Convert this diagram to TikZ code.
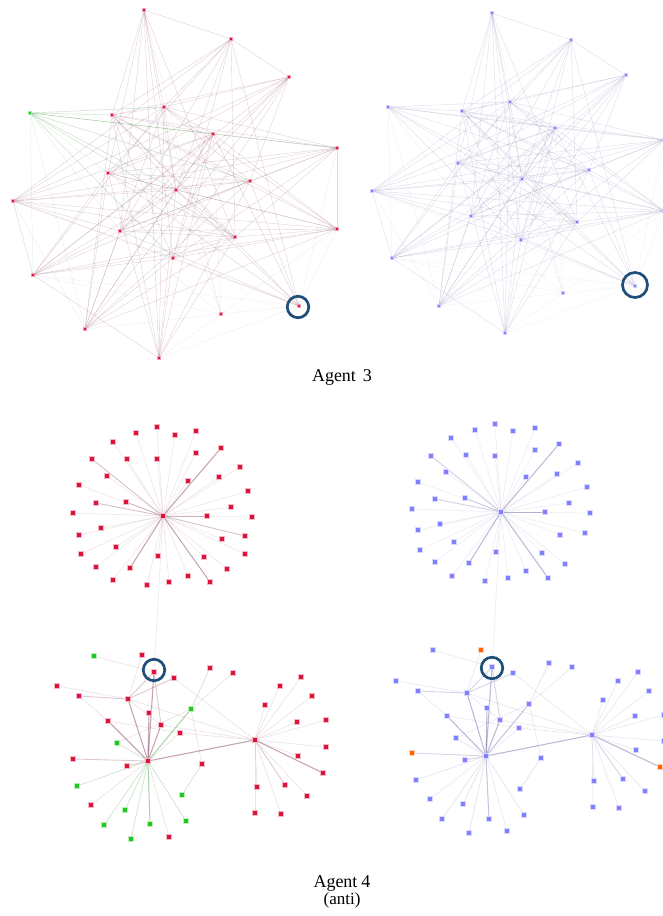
\documentclass[tikz,border=0pt]{standalone}
\usepackage{fontspec}
\setmainfont{Liberation Serif}
\usetikzlibrary{backgrounds}
\definecolor{crim}{RGB}{220,20,60}
\definecolor{grn}{RGB}{30,200,30}
\definecolor{blu}{RGB}{128,128,255}
\definecolor{org}{RGB}{255,100,0}
\definecolor{ringc}{RGB}{31,78,121}
\definecolor{mauve}{RGB}{130,60,90}
\definecolor{lav}{RGB}{105,98,160}
\definecolor{gedge}{RGB}{60,150,60}

\newcommand\mytopedges[1]{%
 \foreach \ea/\eb in {A/B,A/D,A/E,A/I,A/K,A/M,A/P,A/N,A/U,
   B/C,B/D,B/E,B/I,B/L,B/K,B/M,B/P,B/N,B/R,
   C/E,C/D,C/L,C/I,C/K,C/M,C/Q,C/T,C/P,C/J,
   D/E,D/F,D/H,D/J,D/K,D/O,D/N,D/R,D/U,D/T,D/P,
   E/F,E/H,E/J,E/K,E/Q,E/L,E/T,E/U,E/O,
   F/H,F/L,F/I,F/Q,F/T,F/U,F/K,F/O,F/P,F/R,F/M,
   H/I,H/K,H/L,H/J,H/M,H/N,H/O,H/P,
   I/J,I/K,I/O,I/T,I/U,I/Q,I/R,I/N,
   J/L,J/Q,J/T,J/U,J/K,J/M,J/O,J/R,
   K/L,K/O,K/Q,K/T,K/U,K/N,K/R,K/M,
   L/O,L/M,L/N,L/P,L/Q,
   M/N,M/O,M/T,M/Q,M/R,
   N/O,N/Q,N/T,N/U,N/P,
   O/P,O/Q,O/T,P/Q,P/T,P/U,P/R,Q/U}{\draw[eN] (#1\ea) -- (#1\eb);}
 \foreach \ea/\eb in {A/S,E/S,L/R,L/T,O/S,O/R,Q/S,Q/R,R/S,R/U,S/T,S/U,S/K,S/F,S/M,H/R}{\draw[eF] (#1\ea) -- (#1\eb);}
 \foreach \eb in {D,E,F,H,J,K,P,N}{\draw[eG] (#1G) -- (#1\eb);}
 \foreach \eb in {M,I,Q,T}{\draw[eGf] (#1G) -- (#1\eb);}
}

\newcommand\mybottomedges[1]{%
 \foreach \ea/\eb in {H1/H2,H1/C,H1/n7,H1/n8,H1/n10,H1/n9,H2/r9}{\draw[eD] (#1\ea) -- (#1\eb);}
 \foreach \ea/\eb in {n7/n6,n7/C,n7/n2,H2/r11,C/n10,H1/n12,H1/n13}{\draw[eM] (#1\ea) -- (#1\eb);}
 \foreach \ea/\eb in {g2/n3,H1/g3,H1/g4,H1/g6,H1/g7,H1/g9,H1/g10,g5/n14}{\draw[eG] (#1\ea) -- (#1\eb);}
 \foreach \ea/\eb in {H1/g2,H1/g8}{\draw[eGd] (#1\ea) -- (#1\eb);}
 \foreach \ea/\eb in {H1/n11,H1/n15,H1/n16,n5/n7,n6/n9,n1/n7,n2/H2,n7/H2,n9/n11,n10/H2,n11/H2,g2/n4,g3/g2,n14/g2,n7/n10,g1/C}{\draw[eN] (#1\ea) -- (#1\eb);}
 \foreach \i in {1,...,8,10,12,13,14}{\draw[eN] (#1H2) -- (#1r\i);}
}

\begin{document}
\begin{tikzpicture}[x=1pt,y=-1pt,
  tR/.style={rectangle,inner sep=0pt,minimum size=3pt,fill=crim,draw=crim!40,line width=0.6pt},
  tB/.style={rectangle,inner sep=0pt,minimum size=3pt,fill=blu,draw=blu!40,line width=0.6pt},
  tGr/.style={rectangle,inner sep=0pt,minimum size=3pt,fill=grn,draw=grn!40,line width=0.6pt},
  sqR/.style={rectangle,inner sep=0pt,minimum size=4.3pt,fill=crim,draw=crim!30,line width=1pt},
  sqB/.style={rectangle,inner sep=0pt,minimum size=4.3pt,fill=blu,draw=blu!30,line width=1pt},
  sqG/.style={rectangle,inner sep=0pt,minimum size=4.3pt,fill=grn,draw=grn!30,line width=1pt},
  sqO/.style={rectangle,inner sep=0pt,minimum size=4.3pt,fill=org,draw=org!30,line width=1pt},
  ring/.style={circle,draw=ringc,line width=2.7pt,inner sep=0pt},
  lbl/.style={font=\fontsize{18}{20}\selectfont,anchor=base,inner sep=0pt}]
\useasboundingbox (0,0) rectangle (663,916);

% ---------- top graphs ----------
\foreach \n/\x/\y in {A/144/10,B/231/39,C/289/77,D/112/115,E/164/107,F/213/134,H/337/148,I/108/173,J/250/181,K/176/190,L/13/201,M/120/231,N/235/237,O/337/229,P/173/258,Q/33/275,R/299/306,S/221/314,T/85/329,U/159/358}
  {\node[tR] (L\n) at (\x,\y) {};}
\node[tGr] (LG) at (30,113) {};
\foreach \n/\x/\y in {A/492/13,B/571/40,C/626/75,G/388/107,D/462/111,E/510/102,F/555/128,H/664/140,I/458/163,J/589/170,K/522/179,L/372/191,M/471/216,N/577/222,O/664/211,P/521/240,Q/392/258,R/635/286,S/563/293,T/439/306,U/505/333}
  {\node[tB] (R\n) at (\x,\y) {};}

% ---------- stars ----------
\node[sqR] (sLc) at (163,516) {};
\foreach \x/\y [count=\i] in {157/427,136/433,175/435,196/431,113/442,221/448,92/459,127/459,157/459,196/453,240/467,107/476,219/477,188/481,79/485,248/491,96/503,126/502,231/507,73/513,207/516,252/517,101/528,79/535,245/536,222/539,81/554,116/547,245/554,158/556,204/557,96/567,130/568,227/569,188/576,113/580,169/582,210/582,147/585}
  {\node[sqR] (sL\i) at (\x,\y) {};}
\node[sqB] (sRc) at (501,512) {};
\foreach \x/\y [count=\i] in {495/424,475/430,513/431,535/428,451/438,559/444,431/456,466/455,495/456,535/450,578/463,446/472,557/474,526/477,418/482,569/503,435/499,465/498,412/509,545/512,440/524,418/530,560/535,454/542,420/550,542/553,565/564,496/552,435/562,469/563,452/576,526/571,485/581,508/578,548/578,587/487,590/513,585/533}
  {\node[sqB] (sR\i) at (\x,\y) {};}

% ---------- bottom graphs ----------
\foreach \n/\x/\y in {H1/148/761,H2/255/740,C/154/672,n1/142/655,n2/174/678,n3/210/668,n4/233/673,n5/57/686,n6/79/696,n7/128/699,n8/149/713,n9/108/721,n10/161/725,n11/180/733,n12/73/759,n13/127/766,n14/202/764,n15/91/805,n16/169/837,r1/280/686,r2/301/677,r3/265/705,r4/312/696,r5/297/722,r6/326/720,r7/326/747,r8/298/756,r9/323/773,r10/257/787,r11/285/785,r12/307/796,r13/255/813,r14/281/814}
  {\node[sqR] (bL\n) at (\x,\y) {};}
\foreach \n/\x/\y in {g1/94/656,g2/191/709,g3/117/743,g4/77/786,g5/182/795,g6/125/810,g7/104/825,g8/150/824,g9/186/821,g10/131/839}
  {\node[sqG] (bL\n) at (\x,\y) {};}
\foreach \n/\x/\y in {H1/486/756,H2/592/735,C/492/667,g1/433/650,n2/513/673,n3/549/663,n4/572/667,n5/396/681,n6/418/691,n7/467/693,n8/487/708,g2/529/704,n9/447/716,n10/500/720,n11/519/728,g3/456/738,n13/465/760,n14/541/758,g4/416/780,g5/520/789,n15/430/799,g6/463/804,g9/524/815,g8/489/819,g7/442/819,g10/469/833,n16/507/831,r1/618/681,r2/638/672,r3/603/700,r4/649/691,r5/635/716,r6/664/715,r7/664/741,r8/636/750,r10/594/781,r11/623/779,r12/645/791,r13/593/807,r14/619/808}
  {\node[sqB] (bR\n) at (\x,\y) {};}
\foreach \n/\x/\y in {n1/481/650,n12/412/753,r9/660/767}
  {\node[sqO] (bR\n) at (\x,\y) {};}

% ---------- rings ----------
\node[ring,minimum size=21.5pt] (cLT) at (298,307) {};
\node[ring,minimum size=25pt] (cRT) at (635,285) {};
\node[ring,minimum size=21.5pt] (cLB) at (154,670) {};
\node[ring,minimum size=21.5pt] (cRB) at (492,668) {};

% ---------- edges ----------
\begin{pgfonlayer}{background}
\begin{scope}[eN/.style={draw=mauve,draw opacity=0.22,line width=0.45pt},
  eF/.style={draw=mauve,draw opacity=0.09,line width=0.45pt},
  eG/.style={draw=gedge,draw opacity=0.3,line width=0.45pt},
  eGf/.style={draw=gedge,draw opacity=0.13,line width=0.45pt}]
  \mytopedges{L}
\end{scope}
\begin{scope}[eN/.style={draw=lav,draw opacity=0.2,line width=0.45pt},
  eF/.style={draw=lav,draw opacity=0.08,line width=0.45pt},
  eG/.style={draw=lav,draw opacity=0.2,line width=0.45pt},
  eGf/.style={draw=lav,draw opacity=0.09,line width=0.45pt}]
  \mytopedges{R}
\end{scope}
% stars
\foreach \i in {1,...,39}{\draw[mauve,opacity=0.12,line width=0.7pt] (sLc) -- (sL\i);}
\foreach \i in {7,17,18,21,25}{\draw[mauve,opacity=0.26,line width=0.8pt] (sLc) -- (sL\i);}
\foreach \i in {6,33,38}{\draw[mauve,opacity=0.42,line width=1pt] (sLc) -- (sL\i);}
\foreach \i in {1,...,38}{\draw[lav,opacity=0.11,line width=0.7pt] (sRc) -- (sR\i);}
\foreach \i in {7,17,18}{\draw[lav,opacity=0.25,line width=0.8pt] (sRc) -- (sR\i);}
\foreach \i in {6,20,30,35}{\draw[lav,opacity=0.4,line width=1pt] (sRc) -- (sR\i);}
\draw[mauve,opacity=0.12,line width=0.7pt] (sLc) -- (bLC);
\draw[lav,opacity=0.12,line width=0.7pt] (sRc) -- (bRC);
% bottom graphs
\begin{scope}[eN/.style={draw=mauve,draw opacity=0.14,line width=0.7pt},
  eM/.style={draw=mauve,draw opacity=0.28,line width=0.9pt},
  eD/.style={draw=mauve,draw opacity=0.46,line width=1.1pt},
  eG/.style={draw=gedge,draw opacity=0.26,line width=0.7pt},
  eGd/.style={draw=gedge,draw opacity=0.44,line width=1pt}]
  \mybottomedges{bL}
\end{scope}
\begin{scope}[eN/.style={draw=lav,draw opacity=0.14,line width=0.7pt},
  eM/.style={draw=lav,draw opacity=0.28,line width=0.9pt},
  eD/.style={draw=lav,draw opacity=0.44,line width=1.1pt},
  eG/.style={draw=lav,draw opacity=0.18,line width=0.7pt},
  eGd/.style={draw=lav,draw opacity=0.38,line width=1pt}]
  \mybottomedges{bR}
\end{scope}
\end{pgfonlayer}

% ---------- labels ----------
\node[lbl] (lab3) at (342,381) {Agent\hspace{7pt}3};
\node[lbl] (lab4) at (342,887) {Agent\hspace{4pt}4};
\node[lbl,font=\fontsize{17}{19}\selectfont] (lab4b) at (342,904) {(anti)};
\end{tikzpicture}
\end{document}
